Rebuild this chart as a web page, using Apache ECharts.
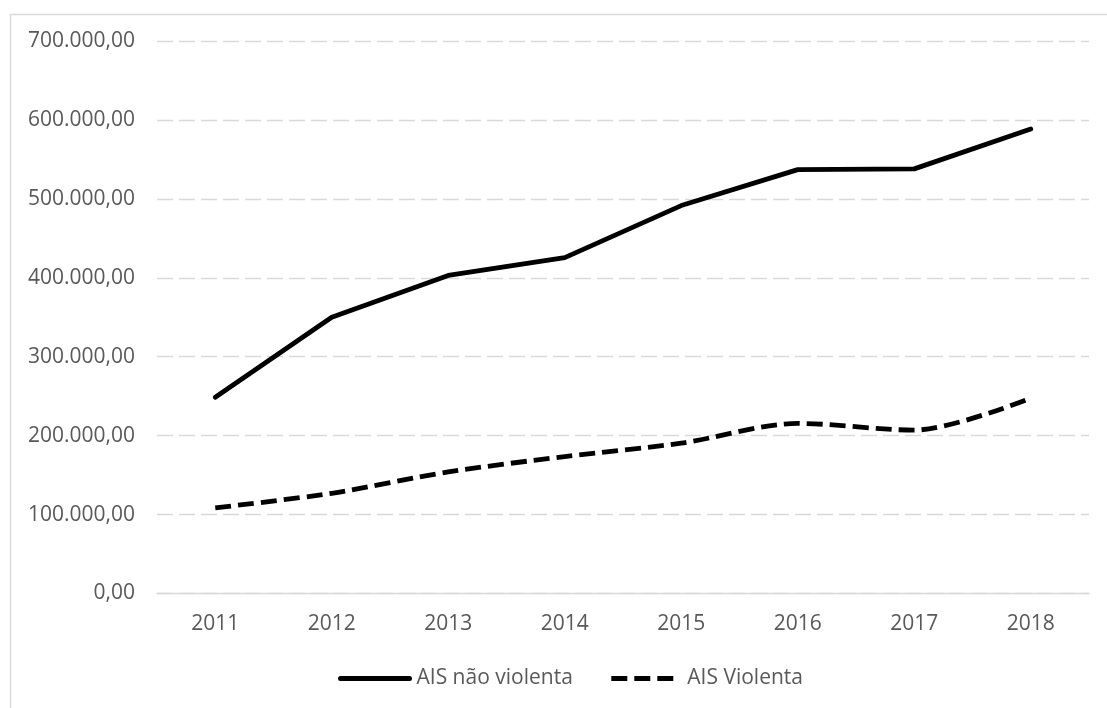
<!DOCTYPE html>
<html>
<head>
<meta charset="utf-8">
<script src="https://cdn.jsdelivr.net/npm/echarts@6/dist/echarts.min.js"></script>
<style>
  html, body { margin: 0; padding: 0; background: #ffffff; }
  #chart { width: 1107px; height: 708px; }
</style>
</head>
<body>
<div id="chart"></div>
<script>
// Years on the category axis
const years = ['2011', '2012', '2013', '2014', '2015', '2016', '2017', '2018'];
// AIS não violenta (solid line)
const aisNaoViolenta = [248700, 350000, 403000, 425500, 491500, 537000, 538000, 588500];
// AIS Violenta (dashed line)
const aisViolenta = [108500, 127000, 154000, 173500, 190500, 215500, 207000, 247500];

const FONT = 'Open Sans';
const TEXT = '#595959';
const GRID = '#d9d9d9';

// pt-BR number style: 700.000,00
function fmtBR(v) {
  const parts = Number(v).toFixed(2).split('.');
  parts[0] = parts[0].replace(/\B(?=(\d{3})+(?!\d))/g, '.');
  return parts[0] + ',' + parts[1];
}

const chart = echarts.init(document.getElementById('chart'), null, { renderer: 'canvas' });

chart.setOption({
  backgroundColor: '#ffffff',
  animation: false,
  textStyle: { fontFamily: FONT },
  graphic: [{
    type: 'rect',
    left: 8, top: 12,
    shape: { width: 1120, height: 720 },
    style: { fill: 'none', stroke: GRID, lineWidth: 1.3 },
    silent: true,
    z: -1
  }],
  grid: { left: 157, right: 18, top: 41, bottom: 114.5, containLabel: false },
  legend: {
    left: 333,
    top: 663,
    itemWidth: 69,
    itemHeight: 14,
    itemGap: 36,
    itemStyle: { opacity: 0 },
    lineStyle: { width: 5 },
    textStyle: { color: TEXT, fontSize: 21, fontFamily: FONT, padding: [0, 0, 0, 2] },
    data: [
      { name: 'AIS não violenta' },
      { name: 'AIS Violenta' }
    ]
  },
  xAxis: {
    type: 'category',
    data: years,
    boundaryGap: true,
    axisLine: { show: true, lineStyle: { color: GRID, width: 1.3 } },
    axisTick: { show: false },
    axisLabel: { color: TEXT, fontSize: 21, margin: 20, fontFamily: FONT },
    splitLine: { show: false }
  },
  yAxis: {
    type: 'value',
    min: 0,
    max: 700000,
    interval: 100000,
    axisLine: { show: false },
    axisTick: { show: false },
    axisLabel: { color: TEXT, fontSize: 21, margin: 22, fontFamily: FONT, formatter: fmtBR },
    splitLine: { show: true, lineStyle: { color: GRID, width: 1.3, type: [16, 6] } }
  },
  series: [
    {
      name: 'AIS não violenta',
      type: 'line',
      data: aisNaoViolenta,
      symbol: 'none',
      smooth: false,
      lineStyle: { color: '#000000', width: 4.8, cap: 'round', join: 'round' },
      itemStyle: { color: '#000000' }
    },
    {
      name: 'AIS Violenta',
      type: 'line',
      data: aisViolenta,
      symbol: 'none',
      smooth: 0.3,
      lineStyle: { color: '#000000', width: 4.8, type: [16, 7], cap: 'butt', join: 'round' },
      itemStyle: { color: '#000000' }
    }
  ]
});
</script>
</body>
</html>
